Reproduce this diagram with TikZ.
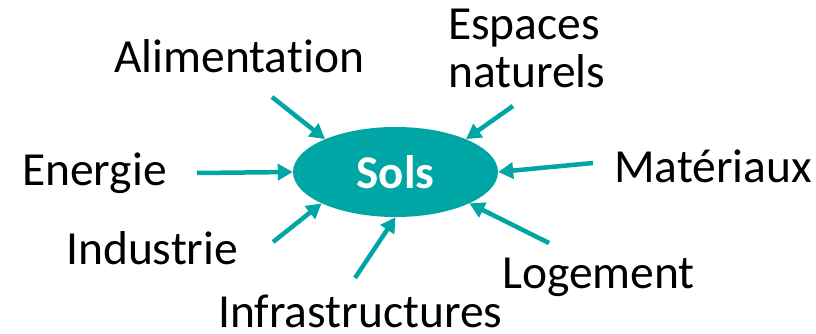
\documentclass[tikz,border=0pt]{standalone}
\usepackage{fontspec}
\setmainfont{Carlito}[Ligatures=NoCommon]
\usetikzlibrary{arrows.meta,shapes.geometric}
\definecolor{solteal}{RGB}{0,165,165}
\tikzset{
  lbl/.style = {inner sep=0, anchor=base west, font=\fontsize{47.5}{48}\selectfont},
  usage/.style = {draw=solteal, line width=4.5pt, -{Triangle[length=15pt,width=16pt]}},
  sol/.style = {ellipse, fill=solteal, text=white, inner sep=0, minimum width=205pt,
    minimum height=90pt, font=\fontsize{47}{50}\selectfont\bfseries},
}

\begin{document}
\begin{tikzpicture}[x=1pt, y=-1pt]
\useasboundingbox (0,0) rectangle (816,334);
\node [sol] (sols) at (395.5,172) {Sols};
\node [lbl] (alim) at (114,73) {Alimentation};
\node [lbl, align=left] (espaces) at (448,88) {Espaces\\naturels};
\node [lbl] (energie) at (22,185) {Energie};
\node [lbl] (materiaux) at (614,182) {Matériaux};
\node [lbl] (industrie) at (66,264) {Industrie};
\node [lbl] (infra) at (218,327) {Infrastructures};
\node [lbl] (logement) at (502,288) {Logement};
\coordinate (a) at (272,97);
\coordinate (e) at (513,106);
\coordinate (n) at (197,173);
\coordinate (m) at (593,163);
\coordinate (i) at (273,242);
\coordinate (f) at (355,278);
\coordinate (l) at (549,243);
\draw [usage] (a) -- (sols.155);
\draw [usage] (e) -- (sols.25);
\draw [usage] (n) -- (sols.180);
\draw [usage] (m) -- (sols.0);
\draw [usage] (i) -- (sols.203);
\draw [usage] (f) -- (sols.270);
\draw [usage] (l) -- (sols.337);
\end{tikzpicture}
\end{document}
